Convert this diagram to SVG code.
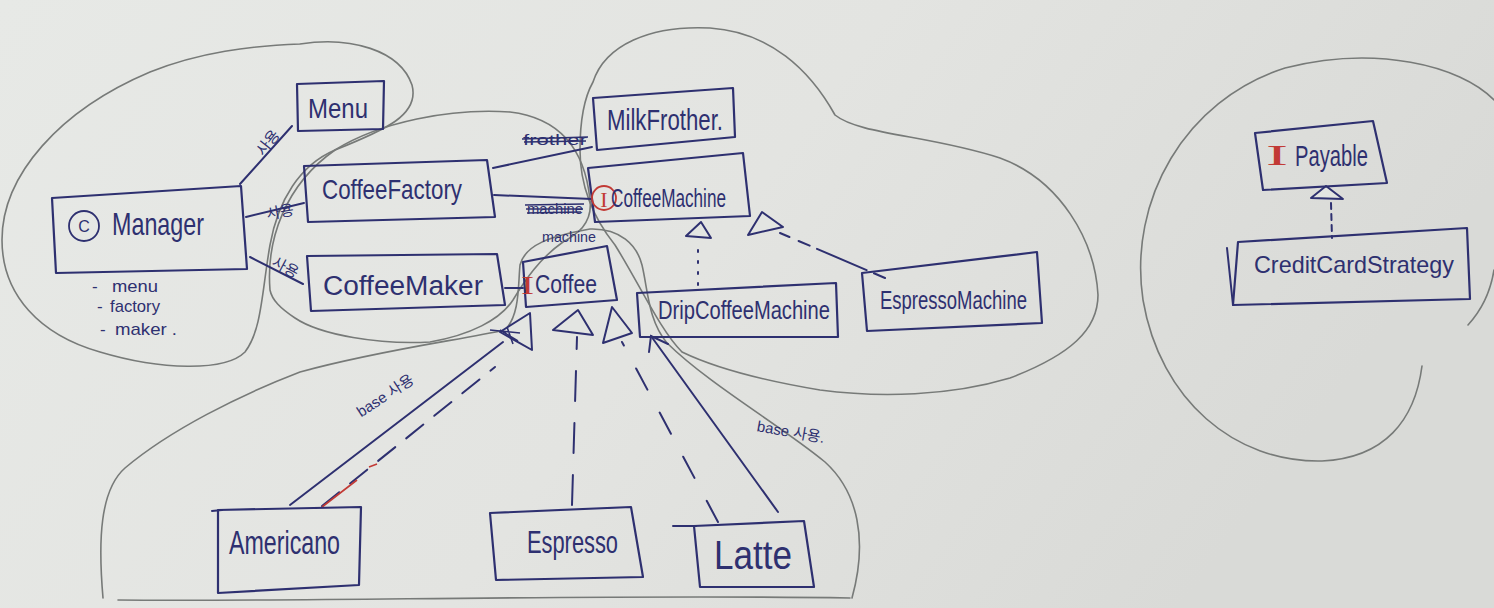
<svg xmlns="http://www.w3.org/2000/svg" width="1494" height="608" viewBox="0 0 1494 608">
<defs>
<linearGradient id="paper" x1="0" y1="0" x2="1" y2="0.3">
<stop offset="0" stop-color="#e7e9e6"/>
<stop offset="0.55" stop-color="#e3e4e1"/>
<stop offset="1" stop-color="#d9dad7"/>
</linearGradient>
<style>
.box{fill:none;stroke:#2e3070;stroke-width:2.2;stroke-linejoin:round}
.ink{fill:none;stroke:#2e3070;stroke-width:2;stroke-linecap:round}
.tri{fill:#e3e5e2;stroke:#2e3070;stroke-width:2;stroke-linejoin:round}
.blob{fill:none;stroke:#777a78;stroke-width:1.6;stroke-linecap:round}
.t{font-family:"Liberation Sans","Noto Sans CJK KR",sans-serif;fill:#2e3070}
.red{font-family:"Liberation Serif",serif;fill:#c23a35}
.lbl{font-family:"Liberation Sans","Noto Sans CJK KR",sans-serif;fill:#2e3070;font-size:15px}
.strike{stroke:#2e3070;stroke-width:1.6;fill:none}
</style>
</defs>
<rect width="1494" height="608" fill="url(#paper)"/>

<g id="enclosures">
<path class="blob" d="M300,44 C350,36 400,50 412,85 C420,115 385,130 335,150 C300,165 278,200 270,245 C262,290 262,330 245,352 C225,372 160,370 100,352 C40,335 2,295 2,240 C2,175 60,110 150,72 C200,52 250,46 300,44"/>
<path class="blob" d="M270,290 C266,240 285,185 335,150 C380,122 450,108 510,112 C560,118 585,150 590,200 C593,225 575,235 563,242 C540,258 525,280 513,300 C500,320 470,335 430,342 C380,345 320,335 295,318 C280,308 272,300 270,290"/>
<path class="blob" d="M593,82 C605,45 650,25 710,28 C770,32 810,70 835,115 C860,135 930,135 1000,158 C1060,180 1095,240 1098,295 C1098,330 1070,355 1010,378 C950,396 880,398 820,390 C760,380 715,368 682,352 C660,330 640,285 615,245 C595,220 580,190 580,150 C580,120 584,98 593,82"/>
<path class="blob" d="M103,598 C98,540 100,490 125,468 C170,430 240,395 300,372 C380,350 460,340 505,330 C520,315 518,285 520,265 C525,245 550,236 590,229 C620,228 637,245 642,265 C648,290 648,320 667,343 C710,385 780,425 825,462 C858,492 868,540 852,598"/>
<path class="blob" d="M118,600 C300,602 600,594 850,598"/>
<path class="blob" d="M1422,366 C1415,420 1385,458 1322,461 C1235,463 1160,400 1143,300 C1128,200 1185,100 1285,68 C1375,45 1460,65 1494,100"/>
<path class="blob" d="M1494,270 C1490,295 1480,312 1468,325"/>
</g>

<g id="connectors">
<path class="ink" d="M240,184 L292,126"/>
<text class="lbl" transform="translate(272,146) rotate(-52)" text-anchor="middle">사용</text>
<path class="ink" d="M246,217 L304,203"/>
<text class="lbl" transform="translate(281,217) rotate(-10)" text-anchor="middle">사용</text>
<path class="ink" d="M250,257 L303,284"/>
<text class="lbl" transform="translate(283,272) rotate(28)" text-anchor="middle">사용</text>
<path class="ink" d="M493,168 L592,147"/>
<text class="lbl" x="523" y="145" textLength="64" lengthAdjust="spacingAndGlyphs">frother</text>
<path class="strike" d="M522,139 L588,137 M524,142 L586,141"/>
<path class="ink" d="M494,195 L592,199"/>
<text class="lbl" x="527" y="214" textLength="56" lengthAdjust="spacingAndGlyphs">machine</text>
<path class="strike" d="M525,205 L584,204 M526,209 L583,209 M527,213 L581,212"/>
<text class="lbl" x="542" y="242" font-size="14" textLength="54" lengthAdjust="spacingAndGlyphs">machine</text>
<path class="ink" d="M505,288 L523,288"/>
<path class="ink" d="M698,285 L698,241" stroke-dasharray="2 9"/>
<path class="ink" d="M885,278 L780,233" stroke-dasharray="12 8 54 8 12 10"/>
<polygon class="tri" points="686,236 701,222 711,238"/>
<polygon class="tri" points="748,235 762,212 783,227"/>
<path class="ink" d="M290,505 L503,342"/>
<path class="ink" d="M322,506 L495,367" stroke-dasharray="22 14"/>
<path d="M322,507 L357,480 M369,467 L377,464" stroke="#c23a35" stroke-width="1.6" fill="none"/>
<polygon class="tri" points="500,332 530,313 532,350"/>
<path class="strike" d="M490,330 L520,333 M500,330 L518,341 M507,327 L513,344"/>
<text class="lbl" transform="translate(388,400) rotate(-33)" text-anchor="middle" font-size="17">base 사용</text>
<path class="ink" d="M572,505 L577,337" stroke-dasharray="30 22"/>
<polygon class="tri" points="553,330 578,310 593,335"/>
<path class="ink" d="M718,522 L622,342" stroke-dasharray="24 26"/>
<polygon class="tri" points="603,343 612,307 632,333"/>
<path class="ink" d="M778,512 L651,336"/>
<path class="ink" d="M649,352 L651,336 L668,344"/>
<text class="lbl" transform="translate(790,437) rotate(10)" text-anchor="middle" font-size="16">base 사용.</text>
<polygon class="tri" points="1311,198 1326,186 1343,199"/>
<path class="ink" d="M1331,203 L1332,238" stroke-dasharray="6 5"/>
</g>

<g id="Menu">
<polygon class="box" points="297,84 384,81 383,129 298,131"/>
<text class="t" x="308" y="118" font-size="28" textLength="60" lengthAdjust="spacingAndGlyphs">Menu</text>
</g>

<g id="Manager">
<polygon class="box" points="52,198 241,186 247,269 56,273"/>
<circle cx="84" cy="226" r="15" fill="none" stroke="#2e3070" stroke-width="1.8"/>
<text class="t" x="84" y="232" font-size="16" text-anchor="middle">C</text>
<text class="t" x="112" y="235" font-size="32" textLength="92" lengthAdjust="spacingAndGlyphs">Manager</text>
<text class="t" x="92" y="292" font-size="17">-</text>
<text class="t" x="112" y="292" font-size="17" textLength="46" lengthAdjust="spacingAndGlyphs">menu</text>
<text class="t" x="97" y="312" font-size="17">-</text>
<text class="t" x="110" y="312" font-size="17" textLength="50" lengthAdjust="spacingAndGlyphs">factory</text>
<text class="t" x="100" y="335" font-size="17">-</text>
<text class="t" x="115" y="335" font-size="17" textLength="62" lengthAdjust="spacingAndGlyphs">maker .</text>
</g>

<g id="CoffeeFactory">
<polygon class="box" points="304,166 487,160 495,217 308,222"/>
<text class="t" x="322" y="199" font-size="28" textLength="140" lengthAdjust="spacingAndGlyphs">CoffeeFactory</text>
</g>

<g id="CoffeeMaker">
<polygon class="box" points="307,256 497,254 505,305 311,311"/>
<text class="t" x="323" y="295" font-size="27" textLength="160" lengthAdjust="spacingAndGlyphs">CoffeeMaker</text>
</g>

<g id="ICoffee">
<polygon class="box" points="523,262 607,246 617,300 526,307"/>
<text class="red" x="521" y="294" font-size="26" textLength="13" lengthAdjust="spacingAndGlyphs">I</text>
<text class="t" x="535" y="293" font-size="25" textLength="62" lengthAdjust="spacingAndGlyphs">Coffee</text>
</g>

<g id="MilkFrother">
<polygon class="box" points="593,98 733,88 735,137 597,150"/>
<text class="t" x="607" y="130" font-size="30" textLength="116" lengthAdjust="spacingAndGlyphs">MilkFrother.</text>
</g>

<g id="ICoffeeMachine">
<polygon class="box" points="588,168 743,153 750,216 595,222"/>
<circle cx="604" cy="198" r="12" fill="none" stroke="#c23a35" stroke-width="1.8"/>
<text class="red" x="604" y="207" font-size="22" text-anchor="middle">I</text>
<text class="t" x="611" y="207" font-size="26" textLength="115" lengthAdjust="spacingAndGlyphs">CoffeeMachine</text>
</g>

<g id="DripCoffeeMachine">
<polygon class="box" points="637,293 836,283 838,337 640,337"/>
<text class="t" x="658" y="319" font-size="25" textLength="172" lengthAdjust="spacingAndGlyphs">DripCoffeeMachine</text>
</g>

<g id="EspressoMachine">
<polygon class="box" points="862,273 1037,252 1042,323 867,331"/>
<text class="t" x="880" y="309" font-size="26" textLength="147" lengthAdjust="spacingAndGlyphs">EspressoMachine</text>
</g>

<g id="Americano">
<polygon class="box" points="218,510 361,507 359,585 218,593"/>
<path class="ink" d="M212,511 L222,510"/>
<text class="t" x="229" y="554" font-size="33" textLength="111" lengthAdjust="spacingAndGlyphs">Americano</text>
</g>

<g id="Espresso">
<polygon class="box" points="490,513 631,507 643,577 496,580"/>
<text class="t" x="527" y="553" font-size="32" textLength="91" lengthAdjust="spacingAndGlyphs">Espresso</text>
</g>

<g id="Latte">
<polygon class="box" points="694,526 804,521 814,587 700,587"/>
<path class="ink" d="M673,526 L696,526"/>
<text class="t" x="714" y="569" font-size="40" textLength="78" lengthAdjust="spacingAndGlyphs">Latte</text>
</g>

<g id="IPayable">
<polygon class="box" points="1255,133 1373,121 1387,183 1263,190"/>
<text class="red" x="1266" y="165" font-size="30" textLength="22" lengthAdjust="spacingAndGlyphs">I</text>
<text class="t" x="1295" y="166" font-size="30" textLength="73" lengthAdjust="spacingAndGlyphs">Payable</text>
</g>

<g id="CreditCardStrategy">
<polygon class="box" points="1238,242 1467,228 1470,299 1233,305"/>
<path class="ink" d="M1227,248 L1233,305"/>
<text class="t" x="1254" y="273" font-size="24" textLength="200" lengthAdjust="spacingAndGlyphs">CreditCardStrategy</text>
</g>
</svg>
